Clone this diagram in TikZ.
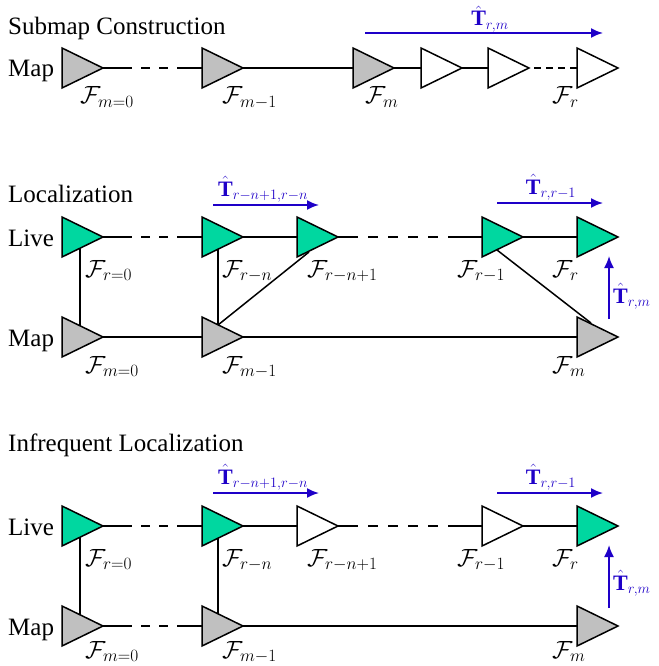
\documentclass[tikz,border=0pt]{standalone}
\usepackage{fontspec}
\setmainfont{Liberation Serif}
\usetikzlibrary{shapes.geometric,arrows.meta,calc,backgrounds}
\definecolor{tgreen}{RGB}{0,215,160}
\definecolor{tgray}{RGB}{192,192,192}
\definecolor{tblue}{RGB}{30,0,200}
\newcommand\mixedge[5]{%
  \draw[conn] (#1.apex) -- ($(#1.apex)+(#3,0)$);
  \draw[conn] ($(#2.lower side)+(-#4,0)$) -- (#2.lower side);
  \draw[conn, dash pattern=on #5pt off #5pt, dash phase=#5pt] ($(#1.apex)+(#3,0)$) -- ($(#2.lower side)+(-#4,0)$);}
\begin{document}
\begin{tikzpicture}[x=1pt,y=-1pt,
 tri/.style={isosceles triangle, isosceles triangle stretches, minimum width=40pt, minimum height=41pt, inner sep=0pt, outer sep=0pt, draw=black, line width=1.5pt, anchor=lower side},
 livet/.style={tri, fill=tgreen}, mapt/.style={tri, fill=tgray}, pendt/.style={tri, fill=white},
 conn/.style={line width=1.5pt},
 flab/.style={anchor=base west, inner sep=0pt, font=\fontsize{25}{30}\selectfont},
 ttl/.style={anchor=base west, inner sep=0pt, font=\fontsize{25}{30}\selectfont},
 tarr/.style={tblue, line width=1.8pt, -{Latex[length=12pt,width=10pt]}},
 tlab/.style={tblue, inner sep=0pt, font=\fontsize{22}{26}\selectfont}]
\useasboundingbox (0,0) rectangle (658,666);

% ---------------- Submap Construction
\node[ttl] (title1) at (8,35) {Submap Construction};
\node[ttl] (rowA) at (8,77) {Map};
\node[mapt] (a0) at (62,68) {};
\node[mapt] (a1) at (202,68) {};
\node[mapt] (a2) at (353,68) {};
\node[pendt] (a3) at (421,68) {};
\node[pendt] (a4) at (488,68) {};
\node[pendt] (a5) at (577,68) {};
\begin{scope}[on background layer]
\mixedge{a0}{a1}{29}{25}{9}
\draw[conn] (a1.apex) -- (a2.lower side);
\draw[conn] (a2.apex) -- (a3.lower side);
\draw[conn] (a3.apex) -- (a4.lower side);
\draw[conn, dash pattern=on 7pt off 5pt, dash phase=7pt] (a4.apex) -- (a5.lower side);
\end{scope}
\node[flab] (la0) at (80,104) {$\mathcal{F}_{m=0}$};
\node[flab] (la1) at (222,104) {$\mathcal{F}_{m-1}$};
\node[flab] (la2) at (365,104) {$\mathcal{F}_{m}$};
\node[flab] (la5) at (552,104) {$\mathcal{F}_{r}$};
\coordinate (t1s) at (365,33);
\coordinate (t1e) at (603,33);
\draw[tarr] (t1s) -- (t1e);
\node[tlab, anchor=base] (t1l) at (490,26) {$\hat{\mathbf{T}}_{r,m}$};

% ---------------- Localization
\node[ttl] (title2) at (8,202) {Localization};
\node[ttl] (rowB1) at (8,246) {Live};
\node[ttl] (rowB2) at (8,346) {Map};
\node[livet] (b0) at (62,237) {};
\node[livet] (b1) at (202,237) {};
\node[livet] (b2) at (297,237) {};
\node[livet] (b3) at (482,237) {};
\node[livet] (b4) at (577,237) {};
\node[mapt] (c0) at (62,337) {};
\node[mapt] (c1) at (202,337) {};
\node[mapt] (c2) at (577,337) {};
\begin{scope}[on background layer]
\mixedge{b0}{b1}{29}{25}{9}
\draw[conn] (b1.apex) -- (b2.lower side);
\mixedge{b2}{b3}{20}{24}{10}
\draw[conn] (b3.apex) -- (b4.lower side);
\draw[conn] (c0.apex) -- (c1.lower side);
\draw[conn] (c1.apex) -- (c2.lower side);
\draw[conn] ($(b0.lower side)+(18,0)$) -- ($(c0.lower side)+(18,0)$);
\draw[conn] ($(b1.lower side)+(16,0)$) -- ($(c1.lower side)+(16,-12)$);
\draw[conn] ($(c1.lower side)+(16,-12)$) -- ($(b2.lower side)+(12,15)$);
\draw[conn] ($(b3.lower side)+(15,13)$) -- ($(c2.lower side)+(14,-14)$);
\end{scope}
\node[flab] (lb0) at (85,277) {$\mathcal{F}_{r=0}$};
\node[flab] (lb1) at (222,277) {$\mathcal{F}_{r-n}$};
\node[flab] (lb2) at (307,277) {$\mathcal{F}_{r-n+1}$};
\node[flab] (lb3) at (457,277) {$\mathcal{F}_{r-1}$};
\node[flab] (lb4) at (552,277) {$\mathcal{F}_{r}$};
\node[flab] (lc0) at (85,373) {$\mathcal{F}_{m=0}$};
\node[flab] (lc1) at (222,373) {$\mathcal{F}_{m-1}$};
\node[flab] (lc2) at (552,373) {$\mathcal{F}_{m}$};
\coordinate (t2s) at (213,205);
\coordinate (t2e) at (319,205);
\draw[tarr] (t2s) -- (t2e);
\node[tlab, anchor=base] (t2l) at (263,196) {$\hat{\mathbf{T}}_{r-n+1,r-n}$};
\coordinate (t3s) at (497,203);
\coordinate (t3e) at (603,203);
\draw[tarr] (t3s) -- (t3e);
\node[tlab, anchor=base] (t3l) at (551,194) {$\hat{\mathbf{T}}_{r,r-1}$};
\coordinate (t4s) at (609,319);
\coordinate (t4e) at (609,256);
\draw[tarr] (t4s) -- (t4e);
\node[tlab, anchor=base west] (t4l) at (613,303) {$\hat{\mathbf{T}}_{r,m}$};

% ---------------- Infrequent Localization
\node[ttl] (title3) at (8,451) {Infrequent Localization};
\node[ttl] (rowC1) at (8,535) {Live};
\node[ttl] (rowC2) at (8,635) {Map};
\node[livet] (d0) at (62,526) {};
\node[livet] (d1) at (202,526) {};
\node[pendt] (d2) at (297,526) {};
\node[pendt] (d3) at (482,526) {};
\node[livet] (d4) at (577,526) {};
\node[mapt] (e0) at (62,626) {};
\node[mapt] (e1) at (202,626) {};
\node[mapt] (e2) at (577,626) {};
\begin{scope}[on background layer]
\mixedge{d0}{d1}{29}{25}{9}
\draw[conn] (d1.apex) -- (d2.lower side);
\mixedge{d2}{d3}{20}{24}{10}
\draw[conn] (d3.apex) -- (d4.lower side);
\mixedge{e0}{e1}{29}{25}{9}
\draw[conn] (e1.apex) -- (e2.lower side);
\draw[conn] ($(d0.lower side)+(18,0)$) -- ($(e0.lower side)+(18,0)$);
\draw[conn] ($(d1.lower side)+(16,0)$) -- ($(e1.lower side)+(16,0)$);
\end{scope}
\node[flab] (ld0) at (85,566) {$\mathcal{F}_{r=0}$};
\node[flab] (ld1) at (222,566) {$\mathcal{F}_{r-n}$};
\node[flab] (ld2) at (307,566) {$\mathcal{F}_{r-n+1}$};
\node[flab] (ld3) at (457,566) {$\mathcal{F}_{r-1}$};
\node[flab] (ld4) at (552,566) {$\mathcal{F}_{r}$};
\node[flab] (le0) at (85,658) {$\mathcal{F}_{m=0}$};
\node[flab] (le1) at (222,658) {$\mathcal{F}_{m-1}$};
\node[flab] (le2) at (552,658) {$\mathcal{F}_{m}$};
\coordinate (t5s) at (213,493);
\coordinate (t5e) at (319,493);
\draw[tarr] (t5s) -- (t5e);
\node[tlab, anchor=base] (t5l) at (263,484) {$\hat{\mathbf{T}}_{r-n+1,r-n}$};
\coordinate (t6s) at (497,493);
\coordinate (t6e) at (603,493);
\draw[tarr] (t6s) -- (t6e);
\node[tlab, anchor=base] (t6l) at (551,484) {$\hat{\mathbf{T}}_{r,r-1}$};
\coordinate (t7s) at (609,608);
\coordinate (t7e) at (609,545);
\draw[tarr] (t7s) -- (t7e);
\node[tlab, anchor=base west] (t7l) at (613,590) {$\hat{\mathbf{T}}_{r,m}$};
\end{tikzpicture}
\end{document}
